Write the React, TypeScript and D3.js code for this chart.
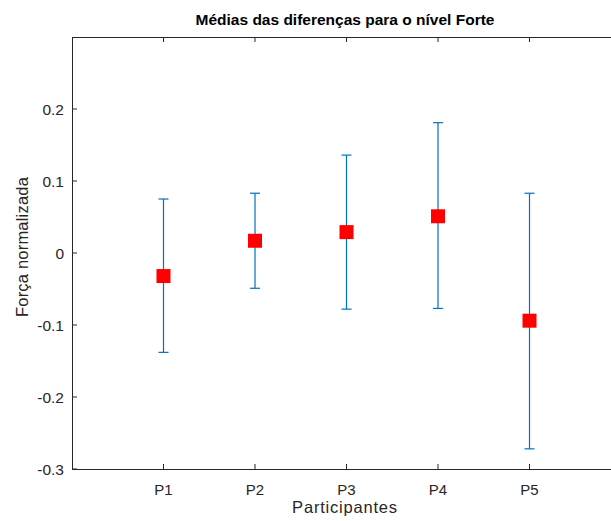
import React from "react";
import * as d3 from "d3";

const categories = ["P1", "P2", "P3", "P4", "P5"];
const means = [-0.032, 0.017, 0.029, 0.051, -0.094];
const uppers = [0.075, 0.083, 0.136, 0.181, 0.083];
const lowers = [-0.138, -0.049, -0.078, -0.077, -0.272];
const yTicks = [-0.3, -0.2, -0.1, 0, 0.1, 0.2];

const W = 611, H = 521;
const left = 72, top = 37, bottom = 469;
const right = 621;

export default function App() {
  const x = d3.scaleLinear().domain([0, 6]).range([left, right]);
  const y = d3.scaleLinear().domain([-0.3, 0.3]).range([bottom, top]);
  const font = "'Liberation Sans', Arial, sans-serif";
  const axisColor = "#262626";
  const tickLen = 5;
  return (
    <svg width={W} height={H} style={{ position: "absolute", left: 0, top: 0, background: "#fff" }} fontFamily={font}>
      <rect x={0} y={0} width={W} height={H} fill="#fff" />
      {categories.map((c, i) => {
        const cx = x(i + 1);
        return (
          <g key={c} stroke="#0072BD" strokeWidth={1.2}>
            <line x1={cx} x2={cx} y1={y(uppers[i])} y2={y(lowers[i])} />
            <line x1={cx - 5} x2={cx + 5} y1={y(uppers[i])} y2={y(uppers[i])} />
            <line x1={cx - 5} x2={cx + 5} y1={y(lowers[i])} y2={y(lowers[i])} />
          </g>
        );
      })}
      {categories.map((c, i) => (
        <rect key={c} x={x(i + 1) - 7} y={y(means[i]) - 7} width={14} height={14} fill="#FF0000" />
      ))}
      <g stroke={axisColor} strokeWidth={1} fill="none">
        <line x1={left} x2={right} y1={bottom + 0.5} y2={bottom + 0.5} />
        <line x1={left} x2={right} y1={top + 0.5} y2={top + 0.5} />
        <line x1={left + 0.5} x2={left + 0.5} y1={top} y2={bottom} />
        {categories.map((c, i) => (
          <g key={c}>
            <line x1={x(i + 1)} x2={x(i + 1)} y1={bottom} y2={bottom - tickLen} />
            <line x1={x(i + 1)} x2={x(i + 1)} y1={top} y2={top + tickLen} />
          </g>
        ))}
        {yTicks.map((t) => (
          <line key={t} x1={left} x2={left + tickLen} y1={y(t)} y2={y(t)} />
        ))}
      </g>
      {categories.map((c, i) => (
        <text key={c} x={x(i + 1)} y={bottom + 26} textAnchor="middle" fontSize={15} fill={axisColor}>{c}</text>
      ))}
      {yTicks.map((t) => (
        <text key={t} x={left - 8} y={y(t) + 5.5} textAnchor="end" fontSize={15.5} fill={axisColor}>{t === 0 ? "0" : d3.format(".1f")(t).replace("−", "-")}</text>
      ))}
      <text x={345} y={512.5} textAnchor="middle" fontSize={16.5} letterSpacing={0.8} fill={axisColor}>Participantes</text>
      <text transform={`translate(28,247) rotate(-90)`} textAnchor="middle" fontSize={16.5} letterSpacing={0.2} fill={axisColor}>Força normalizada</text>
      <text x={345} y={25} textAnchor="middle" fontSize={15.5} fontWeight="bold" fill="#000">Médias das diferenças para o nível Forte</text>
    </svg>
  );
}
